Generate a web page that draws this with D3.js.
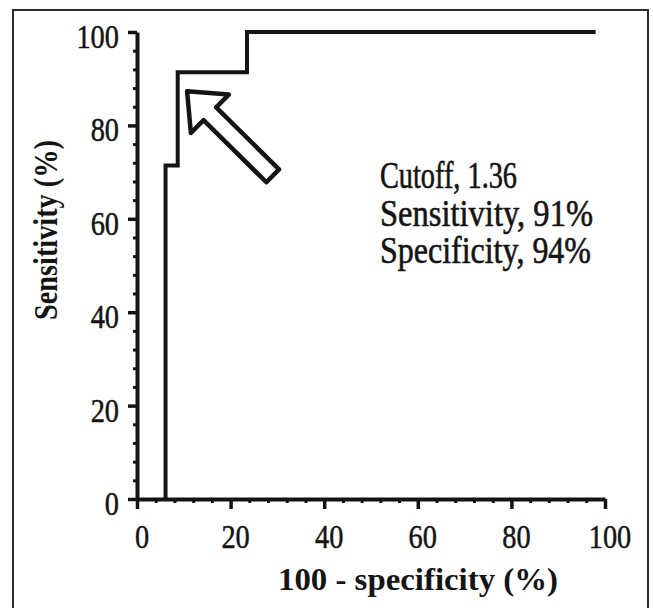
<!DOCTYPE html>
<html>
<head>
<meta charset="utf-8">
<script src="https://cdn.jsdelivr.net/npm/d3@7"></script>
<style>
  html, body { margin: 0; padding: 0; background: #fff; }
  svg { display: block; }
</style>
</head>
<body>
<svg id="chart" width="653" height="608"></svg>
<script>
// ---- data ----
const fpr = [6.1, 6.1, 8.7, 8.7, 23.5, 23.5, 98];          // 100 - specificity (%)
const sensitivity = [0, 71.4, 71.4, 91.4, 91.4, 100, 100]; // sensitivity (%)
const xTicks = [0, 20, 40, 60, 80, 100];
const yTicks = [0, 20, 40, 60, 80, 100];
const minorTicks = [4, 8, 12, 16, 24, 28, 32, 36, 44, 48, 52, 56, 64, 68, 72, 76, 84, 88, 92, 96];
const arrowTip = [10.7, 87.3];
const arrowTail = [29, 69.2];
const annotation = ["Cutoff, 1.36", "Sensitivity, 91%", "Specificity, 94%"];
const annotationWidths = [137, 213, 211];
const xTitle = "100 - specificity (%)";
const yTitle = "Sensitivity (%)";

const svg = d3.select("#chart");
const ink = "#141414";
const serif = "'Liberation Serif', 'Times New Roman', serif";

// frame
svg.append("path")
  .attr("d", "M13,620 L13,10 L648,10 L648,620")
  .attr("fill", "none").attr("stroke", "#2a2a2a").attr("stroke-width", 2);

const x = d3.scaleLinear().domain([0, 100]).range([137, 605]);
const y = d3.scaleLinear().domain([0, 100]).range([499, 32]);

// minor ticks
const gxm = svg.append("g").attr("transform", `translate(0,${y(0)})`)
  .call(d3.axisBottom(x).tickValues(minorTicks).tickSize(4).tickSizeOuter(0).tickFormat(""));
const gym = svg.append("g").attr("transform", `translate(${x(0)},0)`)
  .call(d3.axisLeft(y).tickValues(minorTicks).tickSize(4).tickSizeOuter(0).tickFormat(""));
[gxm, gym].forEach(g => {
  g.select(".domain").remove();
  g.selectAll(".tick line").attr("stroke", ink).attr("stroke-width", 3);
});

// major axes
const gx = svg.append("g").attr("transform", `translate(0,${y(0)})`)
  .call(d3.axisBottom(x).tickValues(xTicks).tickSize(10).tickSizeOuter(0).tickFormat(""));
const gy = svg.append("g").attr("transform", `translate(${x(0)},0)`)
  .call(d3.axisLeft(y).tickValues(yTicks).tickSize(9).tickSizeOuter(0).tickFormat(""));
[gx, gy].forEach(g => {
  g.select(".domain").attr("stroke", ink).attr("stroke-width", 4);
  g.selectAll(".tick line").attr("stroke", ink).attr("stroke-width", 3.5);
});

// tick labels
function label(px, py, txt, anchor, size, sx) {
  svg.append("g").attr("transform", `translate(${px},${py}) scale(${sx},1)`)
    .append("text").text(txt)
    .attr("text-anchor", anchor)
    .attr("font-family", serif)
    .attr("font-size", size)
    .attr("fill", ink)
    .attr("stroke", ink).attr("stroke-width", 0.5);
}
xTicks.forEach(t => label(x(t) + 5, 548, String(t), "middle", 33, 0.86));
yTicks.forEach(t => label(119, y(t) + 16, String(t), "end", 33, 0.86));

// ROC curve
const line = d3.line().x((d, i) => x(fpr[i])).y((d, i) => y(sensitivity[i]));
svg.append("path").datum(fpr)
  .attr("d", line)
  .attr("fill", "none").attr("stroke", ink).attr("stroke-width", 4)
  .attr("stroke-linejoin", "miter");

// hollow arrow
(function () {
  const tx = x(arrowTip[0]), ty = y(arrowTip[1]);
  const ex = x(arrowTail[0]), ey = y(arrowTail[1]);
  const L = Math.hypot(ex - tx, ey - ty);
  const ang = Math.atan2(ey - ty, ex - tx) * 180 / Math.PI;
  const headLen = 32, headHalf = 27, shaftHalf = 9;
  const pts = [[0, 0], [headLen, headHalf], [headLen, shaftHalf], [L, shaftHalf],
               [L, -shaftHalf], [headLen, -shaftHalf], [headLen, -headHalf]];
  svg.append("path")
    .attr("transform", `translate(${tx},${ty}) rotate(${ang})`)
    .attr("d", d3.line()(pts) + "Z")
    .attr("fill", "#fff").attr("stroke", ink).attr("stroke-width", 4.5)
    .attr("stroke-linejoin", "round");
})();

// annotation
const annY = [188, 226, 263];
annotation.forEach((t, i) => {
  svg.append("text").text(t)
    .attr("x", 380).attr("y", annY[i])
    .attr("font-family", serif).attr("font-size", 37)
    .attr("textLength", annotationWidths[i]).attr("lengthAdjust", "spacingAndGlyphs")
    .attr("fill", ink)
    .attr("stroke", ink).attr("stroke-width", 0.6);
});

// axis titles
svg.append("text").text(xTitle)
  .attr("x", 418).attr("y", 590).attr("text-anchor", "middle")
  .attr("font-family", serif).attr("font-size", 32).attr("font-weight", "bold")
  .attr("textLength", 280).attr("lengthAdjust", "spacingAndGlyphs")
  .attr("fill", ink);
svg.append("text").text(yTitle)
  .attr("transform", "translate(57,230) rotate(-90)")
  .attr("text-anchor", "middle")
  .attr("font-family", serif).attr("font-size", 34).attr("font-weight", "bold")
  .attr("textLength", 180).attr("lengthAdjust", "spacingAndGlyphs")
  .attr("fill", ink);
</script>
</body>
</html>
